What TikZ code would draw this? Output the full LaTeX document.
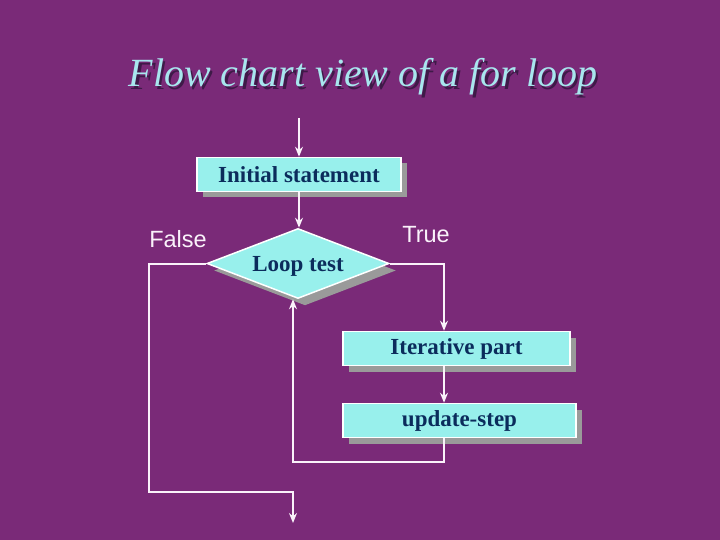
\documentclass[tikz,border=0pt]{standalone}
\usepackage{fontspec}
\setmainfont{Liberation Serif}
\setsansfont{Liberation Sans}
\usetikzlibrary{shapes.geometric,shadows,arrows.meta}
\definecolor{bg}{HTML}{7A2A78}
\definecolor{boxfill}{HTML}{98F0EC}
\definecolor{boxtext}{HTML}{0B2C5C}
\definecolor{shadowgray}{HTML}{9A9A9A}
\definecolor{titlecol}{HTML}{A8E6EE}
\definecolor{titleshadow}{HTML}{3E1A48}
\definecolor{linecol}{HTML}{FAF2FA}
\newcommand{\shadowedtitle}[1]{\rlap{\hspace{2.5pt}\raisebox{-2.5pt}{\color{titleshadow}#1}}{\color{titlecol}#1}}
\tikzset{
  boxshadow/.style={drop shadow={shadow xshift=6pt, shadow yshift=-6pt, fill=shadowgray, opacity=1}},
  flowbox/.style={draw=white, line width=1.5pt, fill=boxfill, text=boxtext,
    font=\fontsize{23}{26}\selectfont\bfseries, inner sep=0pt, minimum height=34pt, boxshadow},
  testbox/.style={diamond, aspect=2.6, draw=white, line width=1.5pt, fill=boxfill, text=boxtext,
    font=\fontsize{23}{26}\selectfont\bfseries, inner sep=0pt, minimum width=182pt, minimum height=70pt,
    drop shadow={shadow xshift=7pt, shadow yshift=-7pt, fill=shadowgray, opacity=1}},
  conn/.style={draw=linecol, line width=2pt},
  arr/.style={conn, -{Stealth[length=10pt,width=8pt]}},
  lbl/.style={text=linecol, font=\sffamily\fontsize{23.5}{26}\selectfont, inner sep=0pt},
  titletext/.style={font=\itshape\fontsize{40}{44}\selectfont, inner sep=0pt, anchor=base}
}
\begin{document}
\begin{tikzpicture}[x=1pt,y=-1pt]
\fill[bg] (0,0) rectangle (720,540);
\useasboundingbox (0,0) rectangle (720,540);
% title
\node[titletext] (title) at (363,87) {\shadowedtitle{Flow chart view of a for loop}};
% nodes
\node[flowbox, minimum width=204pt] (init) at (299,174.5) {Initial statement};
\node[testbox] (test) at (298,263.5) {\raisebox{-8pt}[0pt][0pt]{Loop test}};
\node[flowbox, minimum width=227pt] (iter) at (456.5,348.5) {Iterative part};
\node[flowbox, minimum width=233pt] (update) at (459.5,420.5) {update-step};
\node[lbl] (false) at (178,239.5) {False};
\node[lbl] (true) at (426,234.5) {True};
% coordinates
\coordinate (start) at (299,118);
\coordinate (exit) at (293,523);
% connectors
\draw[arr] (start) -- (init.north);
\draw[arr] (init.south) -- (init.south |- test.north);
\draw[arr] (test.west) -- (149,263.5) -- (149,492) -- (293,492) -- (exit);
\draw[arr] (test.east) -- (444,263.5) -- (444,0 |- iter.north);
\draw[arr] (444,0 |- iter.south) -- (444,0 |- update.north);
\draw[arr] (444,0 |- update.south) -- (444,462) -- (293,462) -- (293,0 |- test.south);
\end{tikzpicture}
\end{document}
